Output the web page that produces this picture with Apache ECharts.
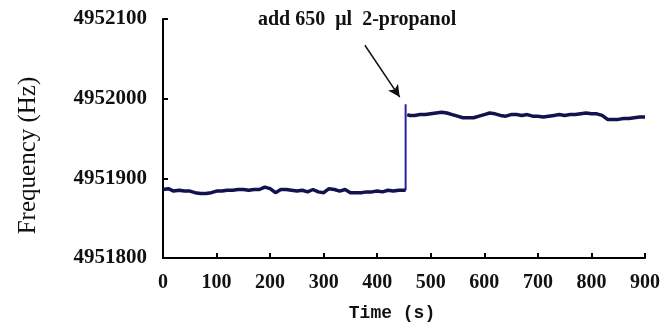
<!DOCTYPE html>
<html>
<head>
<meta charset="utf-8">
<script src="https://cdn.jsdelivr.net/npm/echarts@6/dist/echarts.min.js"></script>
<style>
html, body { margin: 0; padding: 0; background: #fff; }
#chart { width: 665px; height: 327px; }
</style>
</head>
<body>
<div id="chart"></div>
<script>
// time (s) before the 2-propanol addition
var timeBefore = [0, 10, 20, 30, 40, 50, 60, 70, 80, 90, 100, 110, 120, 130, 140, 150, 160, 170, 180, 190,
  200, 210, 220, 230, 240, 250, 260, 270, 280, 290, 300, 310, 320, 330, 340, 350, 360, 370, 380, 390,
  400, 410, 420, 430, 440, 450, 453];
var freqBefore = [4951886, 4951887, 4951884, 4951885, 4951884, 4951884, 4951882, 4951881, 4951881, 4951882,
  4951884, 4951884, 4951885, 4951885, 4951886, 4951886, 4951885, 4951886, 4951886, 4951889,
  4951887, 4951882, 4951886, 4951886, 4951885, 4951884, 4951885, 4951883, 4951886, 4951883,
  4951882, 4951887, 4951886, 4951884, 4951886, 4951882, 4951882, 4951882, 4951883, 4951883,
  4951884, 4951883, 4951885, 4951884, 4951885, 4951885, 4951885];

// jump when the solvent is added
var timeJump = [453, 453];
var freqJump = [4951885, 4951993];

// time (s) after the addition
var timeAfter = [456, 460, 470, 480, 490, 500, 510, 520, 530, 540, 550, 560, 570, 580, 590,
  600, 610, 620, 630, 640, 650, 660, 670, 680, 690, 700, 710, 720, 730, 740, 750, 760, 770, 780, 790,
  800, 810, 820, 830, 840, 850, 860, 870, 880, 890, 900];
var freqAfter = [4951980, 4951979, 4951979, 4951980, 4951980, 4951981, 4951982, 4951983, 4951982,
  4951980, 4951978, 4951976, 4951976, 4951976, 4951978,
  4951980, 4951982, 4951981, 4951979, 4951978, 4951980, 4951980, 4951979, 4951980, 4951978,
  4951978, 4951977, 4951978, 4951979, 4951980, 4951979, 4951980, 4951980, 4951981, 4951982,
  4951981, 4951981, 4951979, 4951974, 4951974, 4951974, 4951975, 4951975, 4951976, 4951977, 4951977];

var annotation = 'add 650  \u03bcl  2-propanol';
var arrowFrom = [377, 4952067];
var arrowTo = [442, 4952002];

function pairs(xs, ys) {
  var out = [];
  for (var i = 0; i < xs.length; i++) out.push([xs[i], ys[i]]);
  return out;
}

var chart = echarts.init(document.getElementById('chart'));
var serif = '"Liberation Serif", "Times New Roman", serif';

var option = {
  backgroundColor: '#ffffff',
  animation: false,
  grid: { left: 163, right: 20, top: 19, bottom: 65 },
  xAxis: {
    type: 'value',
    min: 0,
    max: 900,
    interval: 100,
    name: 'Time (s)',
    nameLocation: 'middle',
    nameGap: 46,
    nameTextStyle: {
      fontFamily: '"Liberation Mono", monospace', fontWeight: 'bold', fontSize: 18, color: '#111',
      padding: [0, 24, 0, 0]
    },
    axisLine: { lineStyle: { color: '#000', width: 2 } },
    axisTick: { inside: true, length: 5, lineStyle: { color: '#000', width: 2 } },
    axisLabel: { fontFamily: serif, fontWeight: 'bold', fontSize: 20, color: '#111', margin: 15 },
    splitLine: { show: false }
  },
  yAxis: {
    type: 'value',
    min: 4951800,
    max: 4952100,
    interval: 100,
    name: 'Frequency (Hz)',
    nameLocation: 'middle',
    nameGap: 122,
    nameTextStyle: { fontFamily: serif, fontSize: 25, color: '#111', padding: [0, 34, 0, 0] },
    axisLine: { show: true, lineStyle: { color: '#000', width: 2 } },
    axisTick: { show: true, inside: true, length: 5, lineStyle: { color: '#000', width: 2 } },
    axisLabel: {
      fontFamily: serif, fontWeight: 'bold', fontSize: 21, color: '#111', margin: 16,
      formatter: function (v) { return String(v); }
    },
    splitLine: { show: false }
  },
  series: [
    {
      type: 'line',
      data: pairs(timeBefore, freqBefore),
      showSymbol: false,
      lineStyle: { color: '#12124e', width: 3.5 },
      z: 3
    },
    {
      type: 'line',
      data: pairs(timeJump, freqJump),
      showSymbol: false,
      lineStyle: { color: '#2424a8', width: 2 },
      z: 2
    },
    {
      type: 'line',
      data: pairs(timeAfter, freqAfter),
      showSymbol: false,
      lineStyle: { color: '#12124e', width: 3.5 },
      z: 3,
      markLine: {
        silent: true,
        symbol: ['none', 'arrow'],
        symbolSize: [9, 12],
        label: { show: false },
        lineStyle: { color: '#111', width: 1.5, type: 'solid' },
        data: [[{ coord: arrowFrom }, { coord: arrowTo }]]
      }
    }
  ],
  graphic: [{
    type: 'text',
    left: 258,
    top: 10,
    style: {
      text: annotation,
      font: 'bold 20px ' + serif,
      fill: '#111'
    }
  }]
};

chart.setOption(option);
</script>
</body>
</html>
